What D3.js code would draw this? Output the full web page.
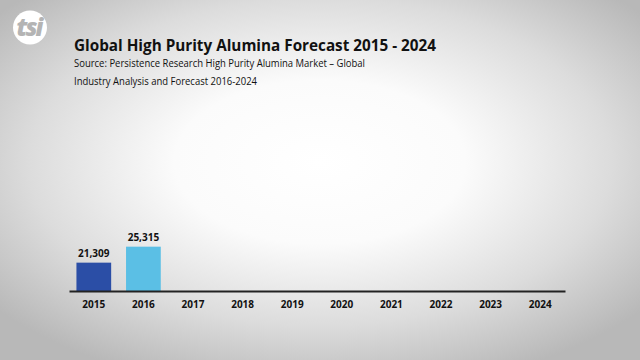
<!DOCTYPE html>
<html>
<head>
<meta charset="utf-8">
<script src="https://cdn.jsdelivr.net/npm/d3@7"></script>
<style>
html,body{margin:0;padding:0;width:640px;height:360px;overflow:hidden;}
svg{display:block;}
</style>
</head>
<body>
<svg id="chart" width="640" height="360"></svg>
<script>
const years = ["2015","2016","2017","2018","2019","2020","2021","2022","2023","2024"];
const values = [21309, 25315, null, null, null, null, null, null, null, null];
const valueLabels = ["21,309","25,315"];
const barColors = ["#2b4ea6","#5bbfe5"];
const title = "Global High Purity Alumina Forecast 2015 - 2024";
const sourceLines = ["Source: Persistence Research High Purity Alumina Market \u2013 Global",
                     "Industry Analysis and Forecast 2016-2024"];
const sourceWidths = [291, 183];

const svg = d3.select("#chart");
const defs = svg.append("defs");
const grad = defs.append("radialGradient").attr("id","bg")
  .attr("cx","50%").attr("cy","45%").attr("r","65%");
grad.append("stop").attr("offset","0%").attr("stop-color","#ffffff");
grad.append("stop").attr("offset","35%").attr("stop-color","#fbfbfb");
grad.append("stop").attr("offset","70%").attr("stop-color","#dcdcdc");
grad.append("stop").attr("offset","100%").attr("stop-color","#b8b8b8");
svg.append("rect").attr("width",640).attr("height",360).attr("fill","url(#bg)");

// logo
const logo = svg.append("g").attr("transform","translate(30,27.5)");
logo.append("circle").attr("r",17).attr("fill","#ffffff");
logo.append("text").attr("text-anchor","middle").attr("x",-1).attr("y",8)
  .attr("font-family","'Open Sans', sans-serif").attr("font-weight",800)
  .attr("font-style","italic").attr("font-size",24).attr("letter-spacing",-2)
  .attr("fill","#b4b4b4").text("tsi");

// titles
svg.append("text").attr("x",74).attr("y",51)
  .attr("font-family","'Open Sans', sans-serif").attr("font-weight",700)
  .attr("font-size",16.5).attr("fill","#111").attr("textLength",362)
  .attr("lengthAdjust","spacingAndGlyphs").text(title);
svg.selectAll("text.src").data(sourceLines).join("text").attr("class","src")
  .attr("x",74).attr("y",(d,i)=>67+i*17.5)
  .attr("font-family","'Open Sans', sans-serif").attr("font-size",10.2)
  .attr("textLength",(d,i)=>sourceWidths[i]).attr("lengthAdjust","spacingAndGlyphs")
  .attr("fill","#111").text(d=>d);

// scales
const x = d3.scaleBand().domain(years).range([69,565]).paddingInner(0.3).paddingOuter(0.15);
const y = d3.scaleLinear().domain([14200, 30000]).range([291, 228]);

// bars
const data = years.map((yr,i)=>({year:yr, value:values[i], label:valueLabels[i], color:barColors[i]}))
  .filter(d=>d.value!=null);
svg.selectAll("rect.bar").data(data).join("rect").attr("class","bar")
  .attr("x",d=>x(d.year)).attr("width",x.bandwidth())
  .attr("y",d=>y(d.value)).attr("height",d=>y.range()[0]-y(d.value))
  .attr("fill",d=>d.color);
svg.selectAll("text.val").data(data).join("text").attr("class","val")
  .attr("x",d=>x(d.year)+x.bandwidth()/2).attr("y",d=>y(d.value)-6)
  .attr("text-anchor","middle").attr("font-family","'Open Sans', sans-serif")
  .attr("font-weight",700).attr("font-size",10).attr("fill","#111")
  .text(d=>d.label);

// axis
const axis = svg.append("g").attr("transform","translate(0,291)")
  .call(d3.axisBottom(x).tickSize(0).tickPadding(10));
axis.select(".domain").attr("stroke","#222").attr("stroke-width",2);
axis.selectAll("text").attr("font-family","'Open Sans', sans-serif")
  .attr("font-weight",700).attr("font-size",10).attr("fill","#111");
</script>
</body>
</html>
